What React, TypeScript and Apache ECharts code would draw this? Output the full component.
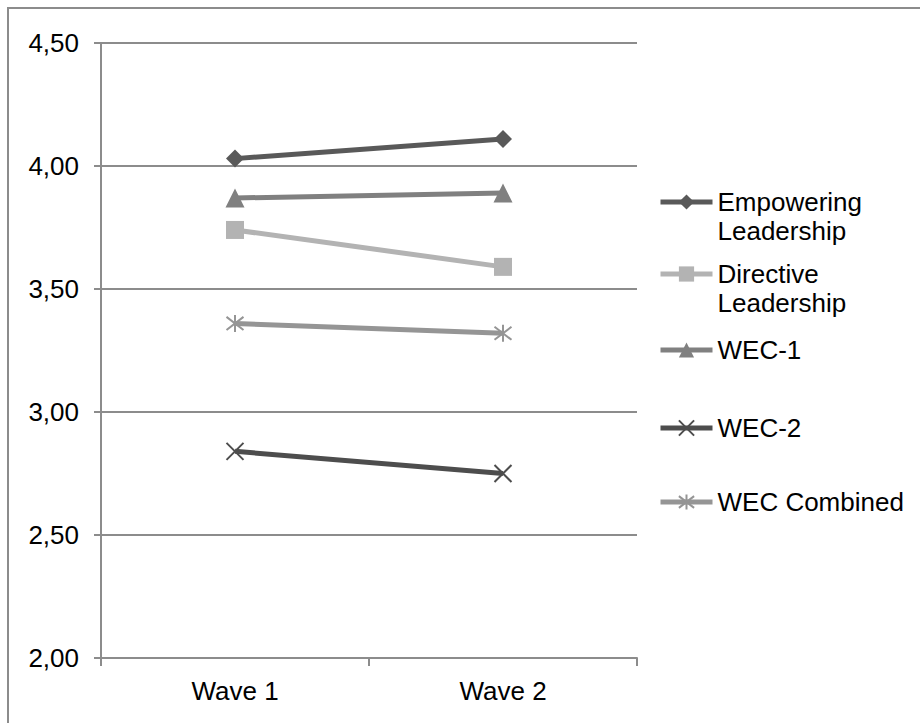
import React, { useEffect, useRef } from "react";
import * as echarts from "echarts";

// Survey means per leadership / WEC scale at each wave
const waves = ["Wave 1", "Wave 2"];
const empowering = [4.03, 4.11];
const directive = [3.74, 3.59];
const wec1 = [3.87, 3.89];
const wec2 = [2.84, 2.75];
const wecCombined = [3.36, 3.32];

const yMin = 2;
const yMax = 4.5;
const yStep = 0.5;

const FONT = "'Liberation Sans', Arial, sans-serif";
const FONT_SIZE = 26;
const AXIS_GRAY = "#8c8c8c";

const crossPath = "path://M0,0L10,10M10,0L0,10";
const starPath = "path://M0,0L10,10M10,0L0,10M5,-1.5L5,11.5";

type SeriesDef = {
  name: string;
  label: string;
  data: number[];
  color: string;
  symbol: string;
  symbolSize: number;
  stroked: boolean;
  legendTop: number;
  twoLine: boolean;
};

const seriesDefs: SeriesDef[] = [
  { name: "Empowering Leadership", label: "Empowering\nLeadership", data: empowering, color: "#595959", symbol: "diamond", symbolSize: 18, stroked: false, legendTop: 202, twoLine: true },
  { name: "Directive Leadership", label: "Directive\nLeadership", data: directive, color: "#b3b3b3", symbol: "rect", symbolSize: 18, stroked: false, legendTop: 274, twoLine: true },
  { name: "WEC-1", label: "WEC-1", data: wec1, color: "#808080", symbol: "triangle", symbolSize: 19, stroked: false, legendTop: 350, twoLine: false },
  { name: "WEC-2", label: "WEC-2", data: wec2, color: "#4d4d4d", symbol: crossPath, symbolSize: 17, stroked: true, legendTop: 428, twoLine: false },
  { name: "WEC Combined", label: "WEC Combined", data: wecCombined, color: "#959595", symbol: starPath, symbolSize: 17, stroked: true, legendTop: 502, twoLine: false },
];

const LINE_H = 29;

export default function App() {
  const ref = useRef<HTMLDivElement>(null);

  useEffect(() => {
    if (!ref.current) return;
    const chart = echarts.init(ref.current, null, { renderer: "svg" });

    // Two-line entries get a blank leading line so the first text line sits
    // level with the legend symbol while the block stays centred on it.
    const legends = seriesDefs.map((s) => ({
      orient: "vertical",
      left: 658,
      top: s.legendTop - (s.twoLine ? LINE_H * 1.5 : LINE_H / 2),
      padding: 0,
      itemWidth: 52,
      itemHeight: 19,
      selectedMode: false,
      data: [s.name],
      formatter: () => (s.twoLine ? "\u00a0\n" + s.label : s.label),
      lineStyle: { color: s.color, width: 5 },
      itemStyle: {
        color: s.color,
        borderColor: s.color,
        borderWidth: s.stroked ? 2 : 0,
      },
      textStyle: {
        fontFamily: FONT,
        fontSize: FONT_SIZE,
        color: "#000",
        lineHeight: LINE_H,
      },
    }));

    chart.setOption({
      animation: false,
      backgroundColor: "#fff",
      graphic: [
        {
          type: "rect",
          shape: { x: 8, y: 8, width: 1200, height: 1200 },
          style: { fill: "none", stroke: AXIS_GRAY, lineWidth: 2 },
          silent: true,
        },
      ],
      grid: { left: 101, top: 43, right: 283, bottom: 65 },
      legend: legends,
      xAxis: {
        type: "category",
        data: waves,
        boundaryGap: true,
        axisLine: { show: true, lineStyle: { color: AXIS_GRAY, width: 2 } },
        axisTick: { show: true, length: 8, lineStyle: { color: AXIS_GRAY, width: 2 } },
        axisLabel: { fontFamily: FONT, fontSize: FONT_SIZE, color: "#000", margin: 20 },
        splitLine: { show: false },
      },
      yAxis: {
        type: "value",
        min: yMin,
        max: yMax,
        interval: yStep,
        axisLine: { show: true, lineStyle: { color: AXIS_GRAY, width: 2 } },
        axisTick: { show: true, length: 7, lineStyle: { color: AXIS_GRAY, width: 2 } },
        axisLabel: {
          fontFamily: FONT,
          fontSize: FONT_SIZE,
          color: "#000",
          margin: 22,
          formatter: (v: number) => v.toFixed(2).replace(".", ","),
        },
        splitLine: { show: true, lineStyle: { color: AXIS_GRAY, width: 2 } },
      },
      series: seriesDefs.map((s) => ({
        name: s.name,
        type: "line",
        data: s.data,
        symbol: s.symbol,
        symbolSize: s.symbolSize,
        showSymbol: true,
        lineStyle: { color: s.color, width: 5 },
        itemStyle: {
          color: s.color,
          borderColor: s.color,
          borderWidth: s.stroked ? 2 : 0,
        },
        emphasis: { disabled: true },
      })),
    });

    return () => chart.dispose();
  }, []);

  return (
    <div
      ref={ref}
      style={{ position: "absolute", left: 0, top: 0, width: 920, height: 723 }}
    />
  );
}
